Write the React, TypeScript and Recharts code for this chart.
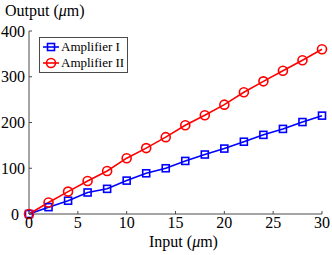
import React from "react";
import { Legend, Line, LineChart, XAxis, YAxis } from "recharts";

const inputs = [0, 2, 4, 6, 8, 10, 12, 14, 16, 18, 20, 22, 24, 26, 28, 30];
const amplifierOne = [0, 15, 29, 47, 55, 73, 89, 100, 116, 130, 143, 158, 173, 186, 201, 215];
const amplifierTwo = [0, 25, 49, 72, 94, 122, 144, 168, 194, 216, 239, 266, 290, 313, 336, 360];
const xTicks = [0, 5, 10, 15, 20, 25, 30];
const yTicks = [0, 100, 200, 300, 400];
const seriesNames = ["Amplifier I", "Amplifier II"];

const FONT = "Liberation Serif, DejaVu Serif, serif";
const AXIS = "#4a4a4a";
const BLUE = "#0000ff";
const RED = "#ff0000";

const data = inputs.map((input, i) => ({
  input,
  one: amplifierOne[i],
  two: amplifierTwo[i],
}));

function SquareDot({ cx, cy }: { cx?: number; cy?: number }) {
  if (cx === undefined || cy === undefined) return null;
  return <rect x={cx - 3.5} y={cy - 3.5} width={7} height={7} fill="none" stroke={BLUE} strokeWidth={1.6} />;
}

// the "0" on the y axis sits a little further left than the others in the source figure
function YTick({ x, y, payload }: { x?: number; y?: number; payload?: { value: number } }) {
  if (x === undefined || y === undefined || !payload) return null;
  const shift = payload.value === 0 ? 6 : 0;
  return (
    <text x={x - shift} y={y} dy="0.355em" textAnchor="end" fontSize={16} fontFamily={FONT} fill="#000">
      {payload.value}
    </text>
  );
}

function LegendIcon({ kind }: { kind: "square" | "circle" }) {
  const color = kind === "square" ? BLUE : RED;
  return (
    <svg width={18} height={16} style={{ display: "block" }}>
      <line x1={1} y1={8} x2={17} y2={8} stroke={color} strokeWidth={1.6} />
      {kind === "square" ? (
        <rect x={5.5} y={4.5} width={7} height={7} fill="none" stroke={color} strokeWidth={1.6} />
      ) : (
        <circle cx={9} cy={8} r={4.5} fill="none" stroke={color} strokeWidth={1.6} />
      )}
    </svg>
  );
}

function LegendBox() {
  return (
    <div
      style={{
        border: `1px solid ${AXIS}`,
        background: "#fff",
        padding: "1px 3px 1px 2px",
        fontFamily: FONT,
        fontSize: 13,
        lineHeight: "16px",
        color: "#000",
      }}
    >
      {seriesNames.map((name, i) => (
        <div key={name} style={{ display: "flex", alignItems: "center", gap: 1 }}>
          <LegendIcon kind={i === 0 ? "square" : "circle"} />
          <span>{name}</span>
        </div>
      ))}
    </div>
  );
}

export default function App() {
  return (
    <div
      style={{ position: "absolute", left: 0, top: 0, width: 332, height: 255, background: "#fff", fontFamily: FONT }}
    >
      <LineChart width={332} height={255} data={data} margin={{ top: 31, right: 10, left: 0, bottom: 0 }}>
        <XAxis
          dataKey="input"
          type="number"
          domain={[0, 30]}
          ticks={xTicks}
          height={41}
          stroke={AXIS}
          tickSize={-3}
          tickMargin={6}
          tick={{ fill: "#000", fontSize: 16, fontFamily: FONT }}
          label={(props: { viewBox?: { x: number; width: number } }) => {
            const vb = props.viewBox ?? { x: 29, width: 293 };
            return (
              <text x={vb.x + vb.width / 2 + 8} y={247} textAnchor="middle" fontSize={16} fontFamily={FONT} fill="#000">
                Input (<tspan fontStyle="italic">μ</tspan>m)
              </text>
            );
          }}
        />
        <YAxis
          type="number"
          domain={[0, 400]}
          ticks={yTicks}
          width={29}
          stroke={AXIS}
          tickSize={-3}
          tickMargin={7}
          tick={<YTick />}
          label={() => (
            <text x={5} y={16} fontSize={16} fontFamily={FONT} fill="#000">
              Output (<tspan fontStyle="italic">μ</tspan>m)
            </text>
          )}
        />
        <Legend
          layout="horizontal"
          verticalAlign="middle"
          align="center"
          content={() => <LegendBox />}
          wrapperStyle={{ top: 37, left: 39, width: "auto", height: "auto" }}
        />
        <Line
          dataKey="one"
          name={seriesNames[0]}
          stroke={BLUE}
          strokeWidth={1.6}
          isAnimationActive={false}
          dot={(props: { cx?: number; cy?: number; index?: number }) => (
            <SquareDot key={props.index} cx={props.cx} cy={props.cy} />
          )}
          activeDot={false}
        />
        <Line
          dataKey="two"
          name={seriesNames[1]}
          stroke={RED}
          strokeWidth={1.6}
          isAnimationActive={false}
          dot={{ r: 4.5, fill: "none", stroke: RED, strokeWidth: 1.6 }}
          activeDot={false}
        />
      </LineChart>
    </div>
  );
}
